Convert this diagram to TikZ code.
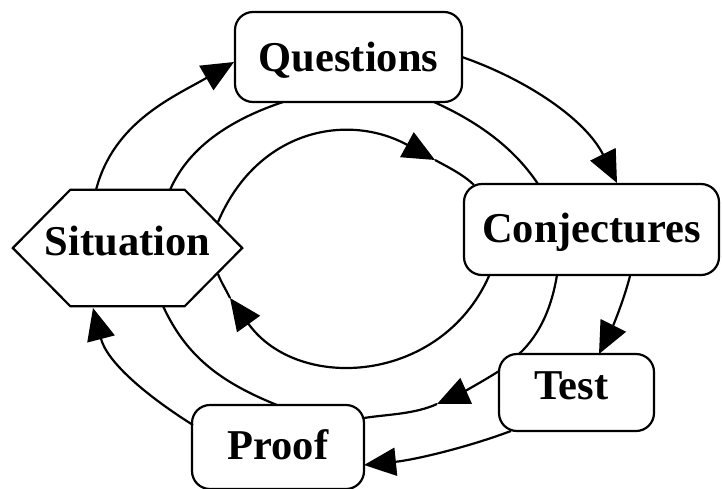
\documentclass[tikz,border=0pt]{standalone}
\usepackage{fontspec}
\setmainfont{Liberation Serif}
\usetikzlibrary{arrows.meta,calc}
\begin{document}
\begin{tikzpicture}[x=1pt,y=-1pt,
  lw/.style={line width=2.2pt},
  box/.style={lw,draw,rounded corners=18pt,inner sep=0pt,
    font=\fontsize{42.5}{50}\selectfont\bfseries,text height=28pt,text depth=0pt},
  hexnode/.style={inner sep=0pt,minimum width=229pt,minimum height=116pt,
    font=\fontsize{42.5}{50}\selectfont\bfseries,text height=28pt,text depth=0pt},
  ln/.style={lw},
  arr/.style={lw,-{Triangle[length=32pt,width=28pt]}}
]
\fill[white] (0,0) rectangle (722,488);
\useasboundingbox (0,0) rectangle (722,488);

% nodes
\node[box,minimum width=227pt,minimum height=90pt] (Q) at (348.5,57) {Questions};
\node[box,minimum width=255pt,minimum height=91pt] (C) at (591.5,229.5) {\raisebox{1.5pt}{Conjectures}};
\node[box,minimum width=155pt,minimum height=77pt] (T) at (576.5,392.5) {\raisebox{7pt}{\hspace*{-10pt}Test}};
\node[box,minimum width=172pt,minimum height=84pt] (P) at (278,447) {\raisebox{2pt}{Proof}};
\node[hexnode] (S) at (127.5,248) {\raisebox{7pt}{Situation}};
\draw[lw,line join=miter] (S.west) -- ($(S.north west)+(57.5,0)$) -- ($(S.north east)+(-57.5,0)$)
  -- (S.east) -- ($(S.south east)+(-57.5,0)$) -- ($(S.south west)+(57.5,0)$) -- cycle;

% outer ring
\draw[arr] ($(S.center)+(-31.5,-58)$) .. controls (113.5,122) and (173.5,97) .. ($(Q.center)+(-114.5,5)$);
\draw[arr] ($(Q.center)+(113.5,0)$) .. controls (528,80) and (586,120) .. ($(C.center)+(25.5,-46.5)$);
\draw[arr] ($(C.center)+(38.5,46.5)$) .. controls (623,303) and (612,328) .. ($(T.center)+(22.5,-38.5)$);
\draw[arr] ($(T.center)+(-65.5,38.5)$) .. controls (464,448.5) and (413,460) .. ($(P.center)+(86,18)$);
\draw[arr] ($(P.center)+(-85,-22)$) .. controls (146,395.5) and (107,362) .. ($(S.center)+(-34.5,60)$);

% middle ring
\coordinate (m4) at (437,404);
\draw[ln] ($(Q.center)+(-65.5,45)$) .. controls (235.5,118) and (190,144) .. ($(S.center)+(42.5,-58)$);
\draw[ln] ($(Q.center)+(85.5,45)$) .. controls (475,120.5) and (512.4,145.6) .. ($(C.center)+(-53.5,-45.5)$);
\draw[ln] ($(C.center)+(-34.5,45.5)$) .. controls (552,305.5) and (541,333.6) .. ($(T.center)+(-57.5,-38.5)$);
\draw[arr] ($(T.center)+(-77.5,-21.5)$) .. controls (479.4,383.5) and (458.8,394.2) .. (m4);
\draw[ln] (m4) .. controls (414.2,414.3) and (388,414.2) .. ($(P.center)+(86,-29)$);
\draw[ln] ($(P.center)+(-1,-42)$) .. controls (220,382) and (186,356) .. ($(S.center)+(35.5,58)$);

% inner ring
\coordinate (i1) at (435,160);
\coordinate (i2) at (230,298);
\draw[arr] ($(S.center)+(90.5,-26)$) .. controls (257,130) and (347,112) .. (i1);
\draw[ln] (i1) .. controls (447,166.5) and (464,175) .. ($(C.center)+(-117.5,-44.5)$);
\draw[arr] ($(C.center)+(-102.5,46.5)$) .. controls (441,384) and (298,393) .. (i2);
\draw[ln] (i2) .. controls (225.7,289) and (221,282) .. ($(S.center)+(90.5,26)$);
\end{tikzpicture}
\end{document}
